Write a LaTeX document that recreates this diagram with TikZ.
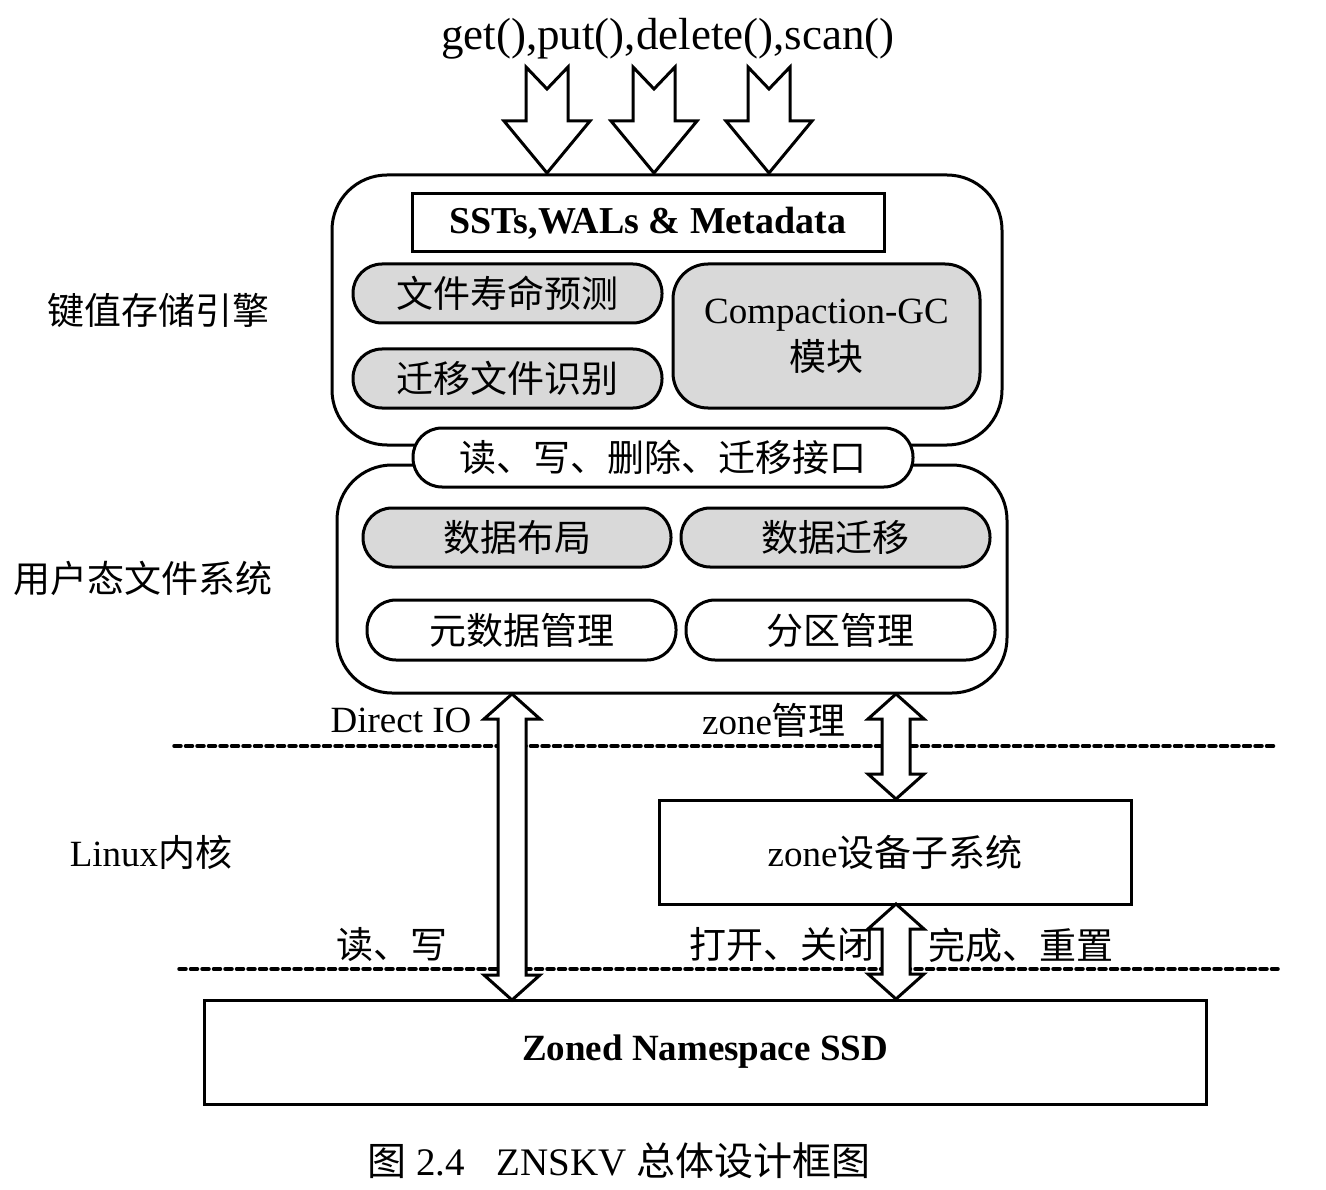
\documentclass[tikz,border=0pt]{standalone}
\usepackage{fontspec}
\setmainfont{Liberation Serif}
\newfontfamily\cjk{Noto Sans CJK SC}
\newcommand\blockdown[1]{%
  \draw[blockarrow] ({#1-21},67) -- (#1,89) -- ({#1+21},67) -- ({#1+21},121) -- ({#1+43},121)
    -- (#1,173) -- ({#1-43},121) -- ({#1-21},121) -- cycle;}
\newcommand\dblarrow[3]{%
  \draw[blockarrow] (#1,#2) -- ({#1+28},{#2+25}) -- ({#1+14},{#2+25}) -- ({#1+14},{#3-25})
    -- ({#1+28},{#3-25}) -- (#1,#3) -- ({#1-28},{#3-25}) -- ({#1-14},{#3-25})
    -- ({#1-14},{#2+25}) -- ({#1-28},{#2+25}) -- cycle;}
\begin{document}
\begin{tikzpicture}[x=1pt,y=-1pt, line width=3pt, line join=miter,
  txt/.style={inner sep=0pt, font=\fontsize{37}{44}\selectfont},
  box/.style={txt, draw, rectangle},
  pill/.style={box, rounded corners=29pt, fill=gray!30, minimum width=309pt, minimum height=59pt},
  wpill/.style={pill, fill=white},
  bigbox/.style={draw, rounded corners=55pt},
  blockarrow/.style={draw, fill=white, line width=3pt, line join=miter},
  sep/.style={line width=3.5pt, line cap=round, dash pattern=on 7pt off 4.5pt}
]
\useasboundingbox (0,0) rectangle (1326,1190);

% top text
\node[txt, font=\fontsize{45}{48}\selectfont] (api) at (668,39) {get(),put(),delete(),scan()};
\blockdown{547}
\blockdown{654}
\blockdown{769}

% key value engine
\draw[bigbox] (332,175) rectangle (1002,445);
\draw[bigbox] (337,465) rectangle (1007,693);
\node[box, minimum width=472pt, minimum height=58pt, font=\fontsize{38}{44}\selectfont\bfseries] (sst) at (648,223) {SSTs,WALs \& Metadata};
\node[pill] (life) at (507.5,293.5) {\cjk 文件寿命预测};
\node[pill] (mig) at (507.5,378.5) {\cjk 迁移文件识别};
\node[pill, rounded corners=35pt, minimum width=307pt, minimum height=144pt, align=center, font=\fontsize{37}{47}\selectfont] (cgc) at (826.5,336) {Compaction-GC\\{\cjk 模块}};
\node[wpill, minimum width=500pt] (iface) at (663,457.5) {\cjk 读、写、删除、迁移接口};

% user-space FS
\node[pill, minimum width=308pt] (layout) at (517,537.5) {\cjk 数据布局};
\node[pill] (dmig) at (835.5,537.5) {\cjk 数据迁移};
\node[wpill, minimum height=60pt] (meta) at (521.5,630) {\cjk 元数据管理};
\node[wpill, minimum height=60pt] (zmgmt) at (840.5,630) {\cjk 分区管理};

% layer labels
\node[txt] (l1) at (158,310) {\cjk 键值存储引擎};
\node[txt] (l2) at (143,578) {\cjk 用户态文件系统};
\node[txt] (l3) at (151,852) {Linux{\cjk 内核}};

% separators
\coordinate (s1a) at (174,746); \coordinate (s1b) at (1278,746);
\coordinate (s2a) at (179,969); \coordinate (s2b) at (1278,969);
\draw[sep] (s1a) -- (s1b);
\draw[sep] (s2a) -- (s2b);

% kernel and device
\node[box, minimum width=472pt, minimum height=104pt] (zdev) at (895,852) {zone{\cjk 设备子系统}};
\node[box, minimum width=1002pt, minimum height=104pt, font=\fontsize{37}{44}\selectfont\bfseries] (ssd) at (705,1052) {Zoned Namespace SSD};

% double arrows
\dblarrow{512}{694}{1000}
\dblarrow{896}{694}{799}
\dblarrow{896}{904}{999}

% arrow labels
\node[txt] (dio) at (401,720) {Direct IO};
\node[txt] (zm) at (774,720) {zone{\cjk 管理}};
\node[txt] (rw) at (392,945) {\cjk 读、写};
\node[txt] (oc) at (782,945) {\cjk 打开、关闭};
\node[txt] (fr) at (1021,945) {\cjk 完成、重置};

% caption
\node[txt, font=\fontsize{39}{44}\selectfont] (cap) at (619,1161) {{\cjk 图} 2.4\hspace{32pt}ZNSKV {\cjk 总体设计框图}};
\end{tikzpicture}
\end{document}
